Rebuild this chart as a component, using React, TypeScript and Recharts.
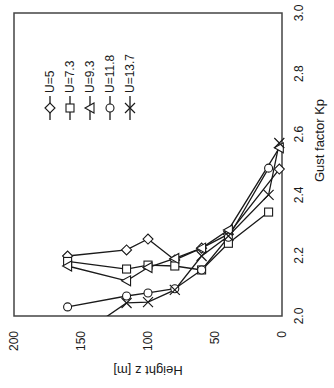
import React from "react";
import { LineChart, Line, XAxis, YAxis, ReferenceArea } from "recharts";

// the plot is drawn upright (Kp across, height up) and the whole thing is turned 90deg left

const kpTicks = [2.0, 2.2, 2.4, 2.6, 2.8, 3.0];
const heightTicks = [0, 50, 100, 150, 200];

const hU5 = [160, 116, 100, 80, 60, 40, 2];
const kpU5 = [2.198, 2.218, 2.254, 2.185, 2.224, 2.27, 2.485];

const hU73 = [160, 116, 100, 80, 60, 40, 10];
const kpU73 = [2.18, 2.155, 2.168, 2.165, 2.152, 2.24, 2.343];

const hU93 = [160, 116, 100, 80, 60, 40, 2];
const kpU93 = [2.165, 2.116, 2.16, 2.19, 2.224, 2.284, 2.555];

const hU118 = [160, 116, 100, 80, 60, 40, 10];
const kpU118 = [2.03, 2.066, 2.076, 2.09, 2.152, 2.26, 2.488];

const hU137 = [160, 116, 100, 80, 60, 40, 10, 2];
const kpU137 = [1.91, 2.043, 2.046, 2.086, 2.198, 2.264, 2.4, 2.571];

const toPoints = (h: number[], kp: number[]) => h.map((z, i) => ({ z, kp: kp[i] }));

const series = [
  { name: "U=5", kind: "diamond", data: toPoints(hU5, kpU5) },
  { name: "U=7.3", kind: "square", data: toPoints(hU73, kpU73) },
  { name: "U=9.3", kind: "triangle", data: toPoints(hU93, kpU93) },
  { name: "U=11.8", kind: "circle", data: toPoints(hU118, kpU118) },
  { name: "U=13.7", kind: "x", data: toPoints(hU137, kpU137) },
];

const ink = "#1a1a1a";
const font = "'Liberation Sans', Arial, sans-serif";

function Marker({ kind, cx, cy }: { kind: string; cx: number; cy: number }) {
  const s = { fill: "#fff", stroke: ink, strokeWidth: 1.1 };
  if (kind === "diamond")
    return <path d={`M${cx},${cy - 5}L${cx + 5},${cy}L${cx},${cy + 5}L${cx - 5},${cy}Z`} {...s} />;
  if (kind === "square") return <rect x={cx - 4} y={cy - 4} width={8} height={8} {...s} />;
  if (kind === "triangle")
    return <path d={`M${cx},${cy - 5}L${cx + 5},${cy + 4}L${cx - 5},${cy + 4}Z`} {...s} />;
  if (kind === "circle") return <circle cx={cx} cy={cy} r={4} {...s} />;
  return (
    <path
      d={`M${cx - 5},${cy - 5}L${cx + 5},${cy + 5}M${cx - 5},${cy + 5}L${cx + 5},${cy - 5}`}
      stroke={ink}
      strokeWidth={1.2}
      fill="none"
    />
  );
}

// legend sits inside the plot, top right (before turning)
function SeriesKey() {
  return (
    <div style={{ position: "absolute", left: 268, top: 40, fontFamily: font, fontSize: 12, color: ink }}>
      {series.map((s) => (
        <div key={s.name} style={{ display: "flex", alignItems: "center", height: 20 }}>
          <svg width={24} height={12} style={{ overflow: "visible" }}>
            <line x1={0} y1={6} x2={24} y2={6} stroke={ink} strokeWidth={1.3} />
            <Marker kind={s.kind} cx={12} cy={6} />
          </svg>
          <span style={{ marginLeft: 3 }}>{s.name}</span>
        </div>
      ))}
    </div>
  );
}

const yTitle = (props: any) => {
  const vb = props.viewBox;
  const cx = 18;
  const cy = vb.y + vb.height / 2;
  return (
    <text x={cx} y={cy} transform={`rotate(-90 ${cx} ${cy})`} textAnchor="middle" dominantBaseline="central"
      fill={ink} fontSize={13} fontFamily={font}>
      Height z [m]
    </text>
  );
};

const xTitle = (props: any) => {
  const vb = props.viewBox;
  return (
    <text x={vb.x + vb.width / 2 + 24} y={319} textAnchor="middle" dominantBaseline="central"
      fill={ink} fontSize={13} fontFamily={font}>
      Gust factor Kp
    </text>
  );
};

export default function App() {
  return (
    <div style={{ position: "absolute", left: 0, top: 0, width: 334, height: 388, overflow: "hidden", background: "#fff" }}>
      <div
        style={{
          position: "absolute",
          left: 0,
          top: 0,
          width: 388,
          height: 334,
          transformOrigin: "0 0",
          transform: "translate(0px, 388px) rotate(-90deg)",
        }}
      >
        <LineChart width={388} height={334} margin={{ top: 14, right: 13, bottom: 0, left: 0 }}>
          <XAxis
            dataKey="kp"
            type="number"
            domain={[2, 3]}
            ticks={kpTicks}
            allowDataOverflow
            tickFormatter={(v: number) => v.toFixed(1)}
            height={52}
            tickLine={false}
            axisLine={false}
            tickSize={0}
            tickMargin={12}
            tick={{ fill: ink, fontSize: 12, fontFamily: font }}
            label={{ content: xTitle }}
          />
          <YAxis
            dataKey="z"
            type="number"
            domain={[0, 200]}
            ticks={heightTicks}
            width={72}
            tickLine={false}
            axisLine={false}
            tickSize={0}
            tickMargin={15}
            tick={{ fill: ink, fontSize: 12, fontFamily: font }}
            label={{ content: yTitle }}
          />
          <ReferenceArea x1={2} x2={3} y1={0} y2={200} fill="none" stroke="#444" strokeWidth={1.5} />
          {series.map((s) => (
            <Line
              key={s.name}
              name={s.name}
              data={s.data}
              dataKey="z"
              stroke={ink}
              strokeWidth={1.3}
              isAnimationActive={false}
              dot={(p: any) => <Marker key={`${s.name}-${p.index}`} kind={s.kind} cx={p.cx} cy={p.cy} />}
              activeDot={false}
            />
          ))}
        </LineChart>
        <SeriesKey />
      </div>
    </div>
  );
}
